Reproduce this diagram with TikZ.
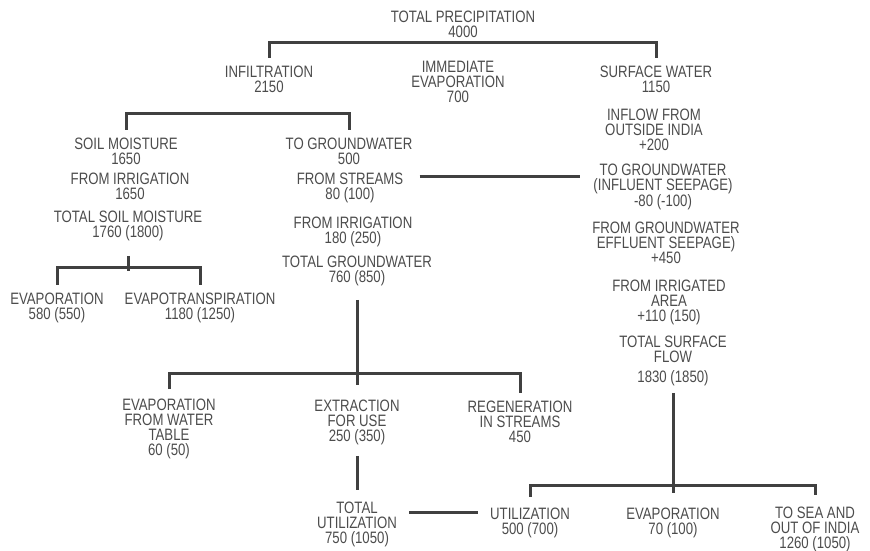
\documentclass[tikz,border=0pt]{standalone}
\usepackage{fontspec}
\setmainfont[FakeStretch=0.8]{Liberation Sans}
\begin{document}
\begin{tikzpicture}[x=1bp, y=-1bp, line width=3bp,
  lbl/.style={anchor=north, align=center, inner xsep=0pt, inner ysep=6bp, text=black!70,
    font=\fontsize{16.5bp}{15bp}\selectfont},
  link/.style={draw=black!75}]
  \useasboundingbox (0,0) rectangle (870,551);
  \node[lbl] (prec) at (463,3) {TOTAL PRECIPITATION\\4000};
  \node[lbl] (infil) at (269,58) {INFILTRATION\\2150};
  \node[lbl] (immed) at (458,54) {IMMEDIATE\\EVAPORATION\\700};
  \node[lbl] (surf) at (656,58) {SURFACE WATER\\1150};
  \node[lbl] (soil) at (126,130) {SOIL MOISTURE\\1650};
  \node[lbl] (firr1) at (130,165) {FROM IRRIGATION\\1650};
  \node[lbl] (tsoil) at (128,203) {TOTAL SOIL MOISTURE\\1760 (1800)};
  \node[lbl] (evap1) at (57,285) {EVAPORATION\\580 (550)};
  \node[lbl] (evtr) at (200,285) {EVAPOTRANSPIRATION\\1180 (1250)};
  \node[lbl] (togw) at (349,130) {TO GROUNDWATER\\500};
  \node[lbl] (fstr) at (350,165) {FROM STREAMS\\80 (100)};
  \node[lbl] (firr2) at (353,209) {FROM IRRIGATION\\180 (250)};
  \node[lbl] (tgw) at (357,248) {TOTAL GROUNDWATER\\760 (850)};
  \node[lbl] (inflow) at (654,101) {INFLOW FROM\\OUTSIDE INDIA\\+200};
  \node[lbl] (togw2) at (663,156) {TO GROUNDWATER\\(INFLUENT SEEPAGE)\\-80 (-100)};
  \node[lbl] (fgw) at (666,214) {FROM GROUNDWATER\\EFFLUENT SEEPAGE)\\+450};
  \node[lbl] (firra) at (669,272) {FROM IRRIGATED\\AREA\\+110 (150)};
  \node[lbl] (tsf) at (673,328) {TOTAL SURFACE\\FLOW\\[5bp]1830 (1850)};
  \node[lbl] (ewt) at (169,391) {EVAPORATION\\FROM WATER\\TABLE\\60 (50)};
  \node[lbl] (extr) at (357,392) {EXTRACTION\\FOR USE\\250 (350)};
  \node[lbl] (regen) at (520,393) {REGENERATION\\IN STREAMS\\450};
  \node[lbl] (tutil) at (357,494) {TOTAL\\UTILIZATION\\750 (1050)};
  \node[lbl] (util) at (530,500) {UTILIZATION\\500 (700)};
  \node[lbl] (evap2) at (673,500) {EVAPORATION\\70 (100)};
  \node[lbl] (sea) at (815,499) {TO SEA AND\\OUT OF INDIA\\1260 (1050)};
  \draw[link] (infil.north) -- ++(0,-15) -| (surf.north);
  \draw[link] (soil.north) -- ++(0,-16) -| (togw.north);
  \draw[link] ([yshift=-8bp]tsoil.south) -- ++(0,15);
  \draw[link] (evap1.north) -- ++(0,-17) -| (evtr.north);
  \draw[link] ([shift={(15bp,-12bp)}]fstr.north east) -- ([shift={(-12bp,-12bp)}]fstr.north east -| togw2.west);
  \draw[link] ([yshift=-7bp]tgw.south) -- ([yshift=7bp]extr.north);
  \draw[link] ([yshift=2bp]ewt.north) -- ++(0,-16) -| (regen.north);
  \draw[link] ([yshift=-4bp]extr.south) -- ([yshift=4bp]tutil.north);
  \draw[link] (tsf.south) -- ([yshift=7.5bp]evap2.north);
  \draw[link] ([yshift=3.5bp]util.north) -- ++(0,-11) -| ([yshift=4.5bp]sea.north);
  \draw[link] ([shift={(-11bp,-12bp)}]util.north west) -- ([shift={(11bp,-12bp)}]util.north west -| tutil.east);
\end{tikzpicture}
\end{document}
